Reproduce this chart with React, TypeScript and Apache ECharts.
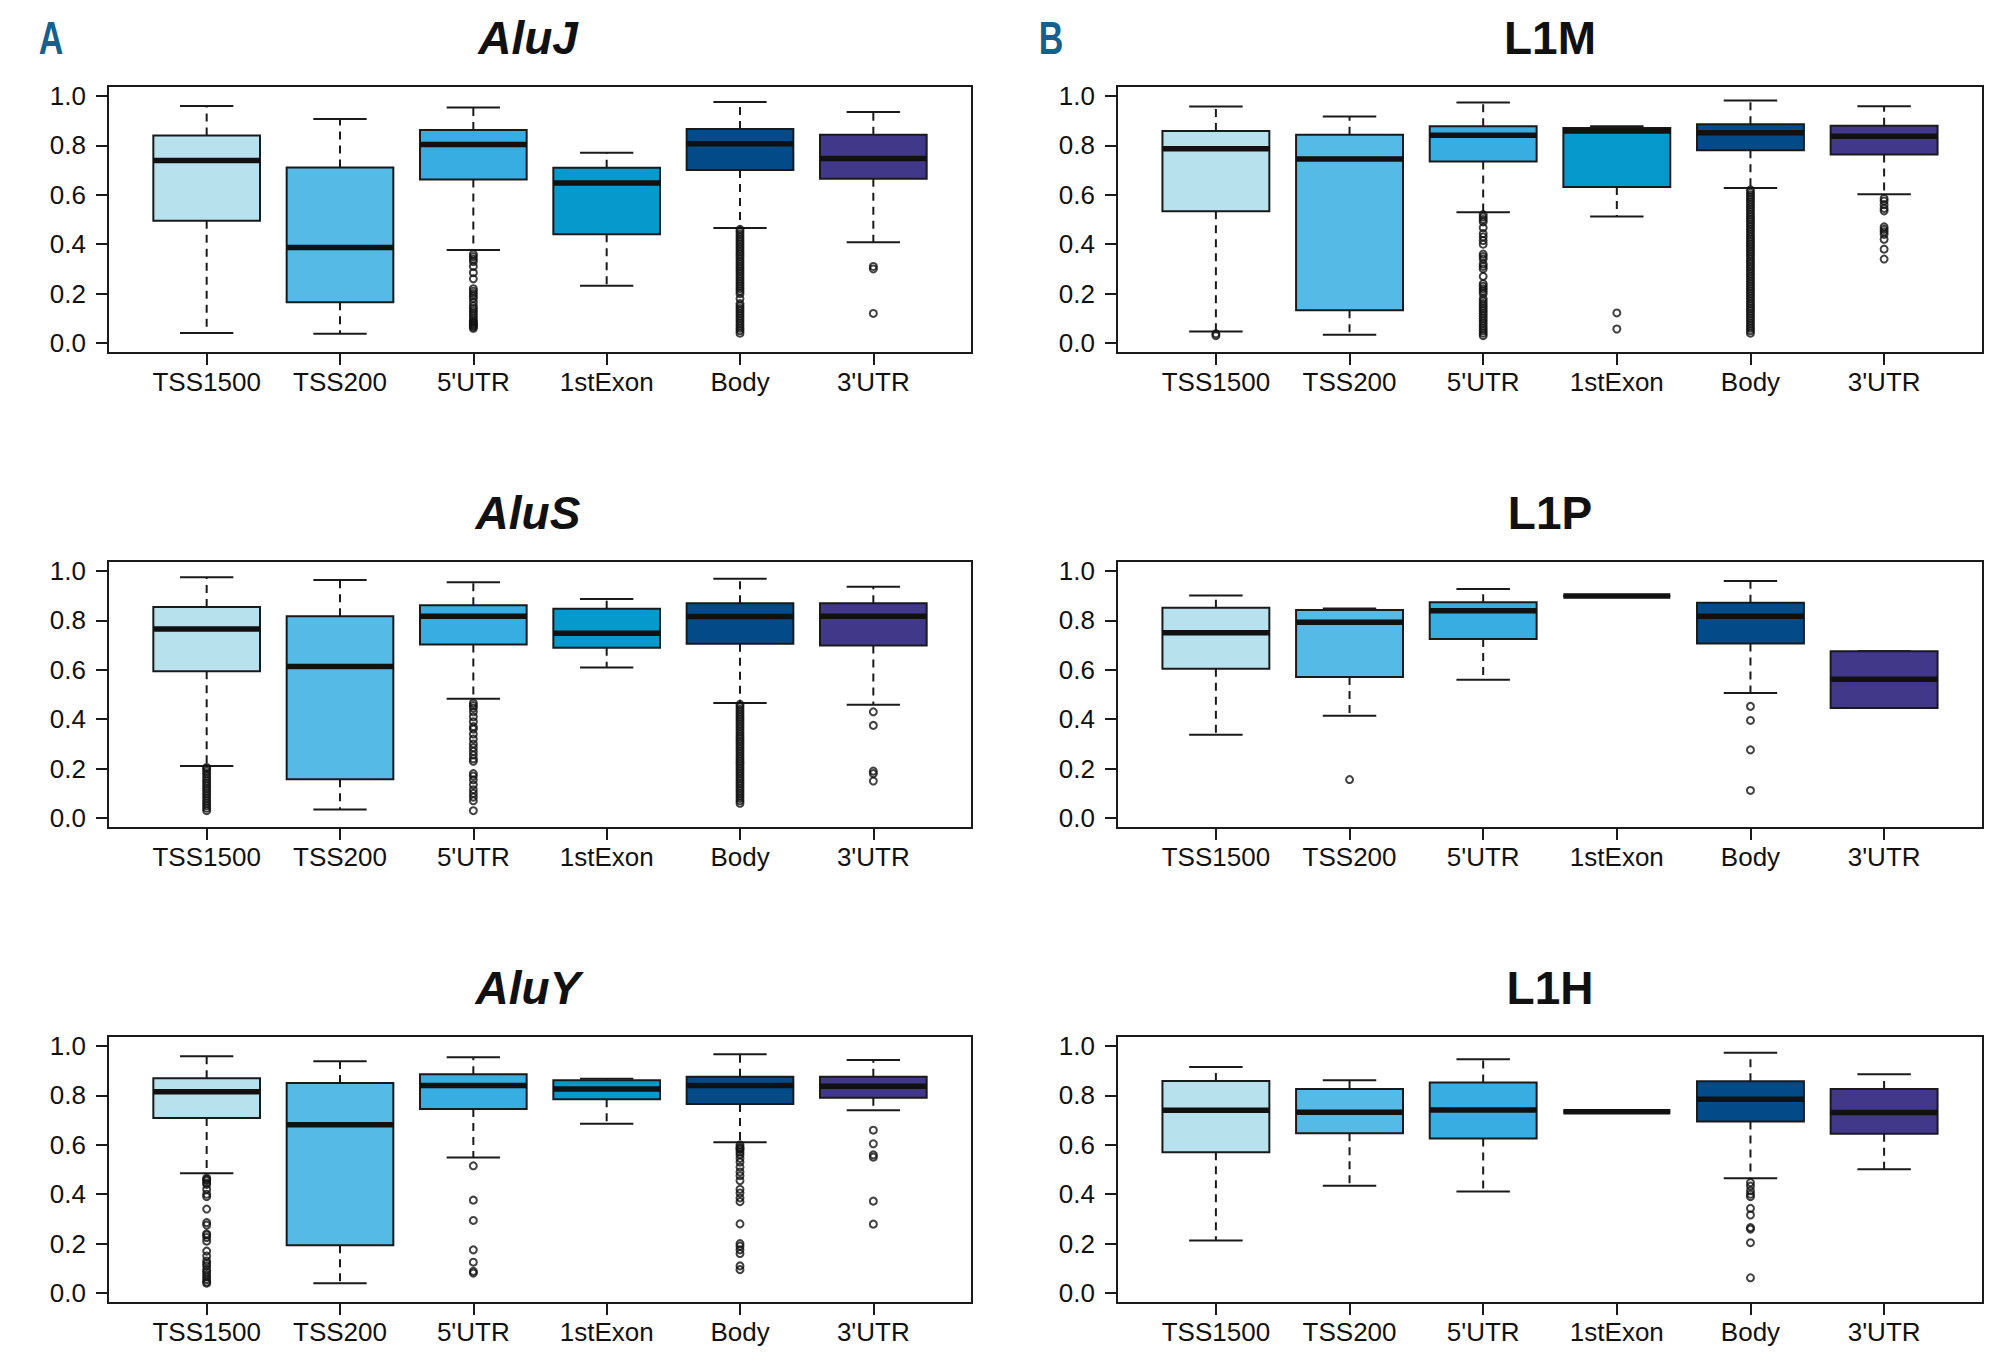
import React, { useEffect, useRef } from "react";
import * as echarts from "echarts";

// ---------- data ----------
const categories = ["TSS1500", "TSS200", "5'UTR", "1stExon", "Body", "3'UTR"];
const boxColors = ["#b8e1ee", "#55bbe6", "#37ade1", "#0599cc", "#034b88", "#413889"];
const yTickValues = [0, 0.2, 0.4, 0.6, 0.8, 1.0];
const xTickValues = [1, 2, 3, 4, 5, 6];

// stats per category: [lower whisker, Q1, median, Q3, upper whisker]
const aluJStats = [
  [0.041, 0.495, 0.739, 0.840, 0.959],
  [0.038, 0.165, 0.387, 0.710, 0.907],
  [0.377, 0.662, 0.803, 0.862, 0.953],
  [0.232, 0.440, 0.648, 0.709, 0.770],
  [0.466, 0.700, 0.806, 0.866, 0.975],
  [0.408, 0.665, 0.747, 0.843, 0.935],
];
const aluJOutliers = [
  [],
  [],
  [0.36, 0.35, 0.34, 0.33, 0.31, 0.285, 0.26, 0.22, 0.21, 0.2, 0.19, 0.18, 0.165, 0.15, 0.14, 0.13, 0.12, 0.11, 0.1, 0.09, 0.085, 0.08, 0.075, 0.07, 0.065, 0.06],
  [],
  [0.46, 0.45, 0.44, 0.43, 0.42, 0.41, 0.4, 0.39, 0.38, 0.37, 0.36, 0.35, 0.34, 0.33, 0.32, 0.31, 0.3, 0.29, 0.28, 0.27, 0.26, 0.25, 0.24, 0.23, 0.22, 0.21, 0.2, 0.18, 0.16, 0.15, 0.14, 0.13, 0.12, 0.11, 0.1, 0.09, 0.08, 0.07, 0.06, 0.05, 0.04],
  [0.31, 0.3, 0.12],
];

const l1mStats = [
  [0.047, 0.533, 0.786, 0.858, 0.957],
  [0.034, 0.133, 0.745, 0.843, 0.917],
  [0.529, 0.735, 0.841, 0.877, 0.973],
  [0.512, 0.631, 0.858, 0.870, 0.877],
  [0.627, 0.780, 0.851, 0.885, 0.981],
  [0.602, 0.763, 0.837, 0.879, 0.958],
];
const l1mOutliers = [
  [0.038, 0.03],
  [],
  [0.52, 0.51, 0.5, 0.49, 0.467, 0.443, 0.43, 0.415, 0.4, 0.36, 0.35, 0.34, 0.32, 0.31, 0.3, 0.27, 0.24, 0.23, 0.22, 0.21, 0.2, 0.18, 0.17, 0.16, 0.15, 0.14, 0.13, 0.12, 0.11, 0.1, 0.09, 0.08, 0.07, 0.06, 0.05, 0.04, 0.03],
  [0.122, 0.057],
  [0.62, 0.61, 0.6, 0.59, 0.58, 0.57, 0.56, 0.55, 0.54, 0.53, 0.52, 0.51, 0.5, 0.49, 0.48, 0.47, 0.46, 0.45, 0.44, 0.43, 0.42, 0.41, 0.4, 0.39, 0.38, 0.37, 0.36, 0.35, 0.34, 0.33, 0.32, 0.31, 0.3, 0.29, 0.28, 0.27, 0.26, 0.25, 0.24, 0.23, 0.22, 0.21, 0.2, 0.19, 0.18, 0.17, 0.16, 0.15, 0.14, 0.13, 0.12, 0.11, 0.1, 0.09, 0.08, 0.07, 0.06, 0.05, 0.04],
  [0.585, 0.575, 0.56, 0.545, 0.535, 0.47, 0.46, 0.45, 0.44, 0.42, 0.38, 0.34],
];

const aluSStats = [
  [0.211, 0.594, 0.765, 0.854, 0.974],
  [0.035, 0.157, 0.613, 0.817, 0.963],
  [0.483, 0.702, 0.817, 0.861, 0.954],
  [0.609, 0.689, 0.748, 0.847, 0.886],
  [0.466, 0.705, 0.816, 0.869, 0.968],
  [0.459, 0.698, 0.817, 0.869, 0.936],
];
const aluSOutliers = [
  [0.205, 0.2, 0.19, 0.18, 0.17, 0.16, 0.15, 0.14, 0.13, 0.12, 0.11, 0.1, 0.09, 0.08, 0.07, 0.06, 0.05, 0.04, 0.03],
  [],
  [0.465, 0.455, 0.445, 0.43, 0.41, 0.39, 0.37, 0.36, 0.34, 0.32, 0.3, 0.285, 0.27, 0.255, 0.24, 0.23, 0.18, 0.17, 0.155, 0.135, 0.115, 0.1, 0.085, 0.07, 0.03],
  [],
  [0.46, 0.45, 0.44, 0.43, 0.42, 0.41, 0.4, 0.39, 0.38, 0.37, 0.36, 0.35, 0.34, 0.33, 0.32, 0.31, 0.3, 0.29, 0.28, 0.27, 0.26, 0.25, 0.24, 0.23, 0.22, 0.21, 0.2, 0.19, 0.18, 0.17, 0.16, 0.15, 0.14, 0.13, 0.12, 0.11, 0.1, 0.09, 0.08, 0.07, 0.06],
  [0.43, 0.375, 0.19, 0.18, 0.15],
];

const l1pStats = [
  [0.337, 0.604, 0.750, 0.851, 0.900],
  [0.414, 0.571, 0.792, 0.842, 0.848],
  [0.560, 0.724, 0.839, 0.873, 0.927],
  [0.898, 0.898, 0.898, 0.898, 0.898],
  [0.506, 0.706, 0.817, 0.871, 0.959],
  [0.445, 0.445, 0.562, 0.675, 0.675],
];
const l1pOutliers = [
  [],
  [0.156],
  [],
  [],
  [0.452, 0.395, 0.276, 0.112],
  [],
];

const aluYStats = [
  [0.485, 0.708, 0.815, 0.869, 0.958],
  [0.040, 0.194, 0.681, 0.850, 0.938],
  [0.549, 0.745, 0.840, 0.885, 0.954],
  [0.685, 0.784, 0.826, 0.861, 0.867],
  [0.610, 0.765, 0.840, 0.875, 0.966],
  [0.740, 0.790, 0.837, 0.875, 0.943],
];
const aluYOutliers = [
  [0.465, 0.46, 0.455, 0.445, 0.44, 0.42, 0.4, 0.39, 0.34, 0.285, 0.275, 0.24, 0.235, 0.225, 0.21, 0.17, 0.15, 0.13, 0.12, 0.11, 0.095, 0.085, 0.075, 0.065, 0.055, 0.045, 0.04],
  [],
  [0.515, 0.376, 0.294, 0.175, 0.125, 0.088, 0.081],
  [],
  [0.6, 0.59, 0.585, 0.58, 0.57, 0.56, 0.545, 0.53, 0.51, 0.49, 0.475, 0.455, 0.42, 0.405, 0.385, 0.37, 0.28, 0.2, 0.19, 0.175, 0.16, 0.11, 0.095],
  [0.659, 0.604, 0.559, 0.55, 0.372, 0.279],
];

const l1hStats = [
  [0.213, 0.570, 0.740, 0.858, 0.915],
  [0.434, 0.647, 0.732, 0.826, 0.861],
  [0.411, 0.625, 0.741, 0.852, 0.946],
  [0.734, 0.734, 0.734, 0.734, 0.734],
  [0.465, 0.694, 0.784, 0.857, 0.972],
  [0.501, 0.645, 0.731, 0.826, 0.885],
];
const l1hOutliers = [
  [],
  [],
  [],
  [],
  [0.447, 0.433, 0.414, 0.4, 0.39, 0.343, 0.316, 0.265, 0.259, 0.204, 0.062],
  [],
];

const panels = [
  { title: "AluJ", italic: true, stats: aluJStats, outliers: aluJOutliers },
  { title: "L1M", italic: false, stats: l1mStats, outliers: l1mOutliers },
  { title: "AluS", italic: true, stats: aluSStats, outliers: aluSOutliers },
  { title: "L1P", italic: false, stats: l1pStats, outliers: l1pOutliers },
  { title: "AluY", italic: true, stats: aluYStats, outliers: aluYOutliers },
  { title: "L1H", italic: false, stats: l1hStats, outliers: l1hOutliers },
];
const panelLetters = ["A", "B"];

// ---------- layout ----------
const W = 2000;
const H = 1366;
const colLeft = [108, 1117];
const colWidth = [864, 866];
const titleX = [528, 1550];
const letterX = [51, 1051];
const rowTop = [86, 561, 1036];
const rowHeight = 267;
const titleY = [38, 513, 988];
const FONT = "'Liberation Sans', Arial, Helvetica, sans-serif";
const INK = "#1a1a1a";

function buildOption() {
  const grid: any[] = [];
  const xAxis: any[] = [];
  const yAxis: any[] = [];
  const series: any[] = [];
  const title: any[] = [];

  panels.forEach((p, i) => {
    const col = i % 2;
    const row = Math.floor(i / 2);
    grid.push({
      left: colLeft[col],
      top: rowTop[row],
      width: colWidth[col],
      height: rowHeight,
      show: true,
      borderColor: INK,
      borderWidth: 2,
      backgroundColor: "transparent",
      containLabel: false,
    });
    xAxis.push({
      type: "value",
      gridIndex: i,
      min: 0.26,
      max: 6.74,
      axisLine: { show: false, onZero: false },
      splitLine: { show: false },
      axisTick: {
        show: true,
        customValues: xTickValues,
        length: 12,
        lineStyle: { color: INK, width: 2 },
      },
      axisLabel: {
        show: true,
        customValues: xTickValues,
        formatter: (v: number) => categories[Math.round(v) - 1] ?? "",
        fontSize: 26,
        fontFamily: FONT,
        color: "#111",
        margin: 16,
      },
    });
    yAxis.push({
      type: "value",
      gridIndex: i,
      min: -0.04,
      max: 1.04,
      axisLine: { show: false, onZero: false },
      splitLine: { show: false },
      axisTick: {
        show: true,
        customValues: yTickValues,
        length: 12,
        lineStyle: { color: INK, width: 2 },
      },
      axisLabel: {
        show: true,
        customValues: yTickValues,
        formatter: (v: number) => v.toFixed(1),
        fontSize: 26,
        fontFamily: FONT,
        color: "#111",
        margin: 22,
      },
    });

    const boxData = p.stats.map((s, k) => [k + 1, s[0], s[1], s[2], s[3], s[4]]);
    series.push({
      type: "custom",
      xAxisIndex: i,
      yAxisIndex: i,
      silent: true,
      data: boxData,
      encode: { x: 0, y: [1, 2, 3, 4, 5] },
      renderItem: (params: any, api: any) => {
        const x = api.value(0);
        const pLow = api.coord([x, api.value(1)]);
        const pQ1 = api.coord([x, api.value(2)]);
        const pMed = api.coord([x, api.value(3)]);
        const pQ3 = api.coord([x, api.value(4)]);
        const pHigh = api.coord([x, api.value(5)]);
        const cx = pMed[0];
        const halfBox = api.size([0.8, 0])[0] / 2;
        const halfCap = api.size([0.4, 0])[0] / 2;
        const color = boxColors[params.dataIndex];
        const dash = { stroke: INK, lineWidth: 2, lineDash: [8, 6] };
        const solid = { stroke: INK, lineWidth: 2 };
        return {
          type: "group",
          children: [
            { type: "line", shape: { x1: cx, y1: pQ3[1], x2: cx, y2: pHigh[1] }, style: dash },
            { type: "line", shape: { x1: cx, y1: pQ1[1], x2: cx, y2: pLow[1] }, style: dash },
            { type: "line", shape: { x1: cx - halfCap, y1: pHigh[1], x2: cx + halfCap, y2: pHigh[1] }, style: solid },
            { type: "line", shape: { x1: cx - halfCap, y1: pLow[1], x2: cx + halfCap, y2: pLow[1] }, style: solid },
            {
              type: "rect",
              shape: { x: cx - halfBox, y: pQ3[1], width: halfBox * 2, height: pQ1[1] - pQ3[1] },
              style: { fill: color, stroke: INK, lineWidth: 2 },
            },
            {
              type: "line",
              shape: { x1: cx - halfBox, y1: pMed[1], x2: cx + halfBox, y2: pMed[1] },
              style: { stroke: "#111", lineWidth: 5.5 },
            },
          ],
        };
      },
      z: 2,
    });

    const outData: number[][] = [];
    p.outliers.forEach((arr, k) => arr.forEach((v) => outData.push([k + 1, v])));
    series.push({
      type: "scatter",
      xAxisIndex: i,
      yAxisIndex: i,
      silent: true,
      symbol: "circle",
      symbolSize: 7,
      data: outData,
      itemStyle: { color: "rgba(0,0,0,0)", borderColor: "#111", borderWidth: 2 },
      z: 3,
    });

    title.push({
      text: p.title,
      left: titleX[col],
      top: titleY[row],
      textAlign: "center",
      textVerticalAlign: "middle",
      padding: 0,
      textStyle: {
        fontSize: 46,
        fontWeight: "bold",
        fontStyle: p.italic ? "italic" : "normal",
        fontFamily: FONT,
        color: "#111",
      },
    });
  });

  const graphic = panelLetters.map((t, c) => ({
    type: "text",
    x: letterX[c],
    y: titleY[0],
    scaleX: 0.74,
    silent: true,
    style: {
      text: t,
      textAlign: "center",
      textVerticalAlign: "middle",
      fontSize: 46,
      fontWeight: "bold",
      fontFamily: FONT,
      fill: "#14608f",
    },
  }));

  return {
    animation: false,
    backgroundColor: "#ffffff",
    title,
    graphic,
    grid,
    xAxis,
    yAxis,
    series,
  };
}

export default function App() {
  const ref = useRef<HTMLDivElement>(null);
  useEffect(() => {
    if (!ref.current) return;
    const chart = echarts.init(ref.current, undefined, { renderer: "svg", width: W, height: H });
    chart.setOption(buildOption() as any);
    return () => chart.dispose();
  }, []);
  return (
    <div
      ref={ref}
      style={{ position: "fixed", left: 0, top: 0, width: W, height: H, background: "#fff" }}
    />
  );
}
